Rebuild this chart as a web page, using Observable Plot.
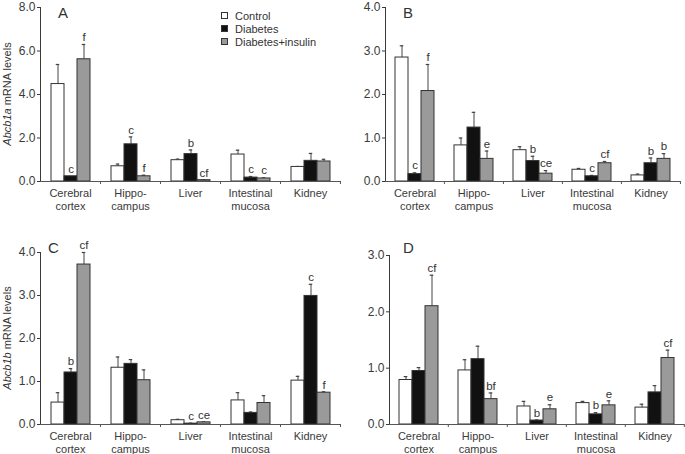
<!DOCTYPE html>
<html><head><meta charset="utf-8">
<script src="https://cdn.jsdelivr.net/npm/d3@7"></script>
<script src="https://cdn.jsdelivr.net/npm/@observablehq/plot@0.6"></script>
<style>
body{margin:0;background:#fff;font-family:"Liberation Sans",Arial,sans-serif;}
#wrap{position:relative;width:685px;height:454px;overflow:hidden;background:#fff;}
.panel{position:absolute;}
.panel svg{background:transparent !important;}
.letter{position:absolute;font-size:15px;color:#333;line-height:15px;}
.ylab{position:absolute;font-size:11px;color:#333;transform:translate(-50%,-50%) rotate(-90deg);white-space:nowrap;}
.legend{position:absolute;left:221px;top:10px;font-size:11px;color:#333;line-height:13px;}
.legend .sw{display:inline-block;width:5px;height:5px;border:1px solid #333;margin-right:7px;vertical-align:1px;}
</style></head><body><div id="wrap"></div>
<script>
// ---- categories ----
const tissues = ["Cerebral cortex","Hippocampus","Liver","Intestinal mucosa","Kidney"];
const tissueLabels = ["Cerebral\ncortex","Hippo-\ncampus","Liver","Intestinal\nmucosa","Kidney"];
const groups = ["Control","Diabetes","Diabetes+insulin"];
const groupFills = ["#ffffff","#111111","#9a9a9a"];

// ---- Panel A: Abcb1a (left column) ----
const meanA_control = [4.48, 0.70, 0.98, 1.24, 0.67];
const meanA_diab    = [0.24, 1.71, 1.26, 0.18, 0.95];
const meanA_ins     = [5.62, 0.24, 0.06, 0.14, 0.92];
const topA_control  = [5.38, 0.80, 1.03, 1.44, 0.69];
const topA_diab     = [0.24, 2.05, 1.45, 0.23, 1.29];
const topA_ins      = [6.30, 0.29, 0.07, 0.17, 1.02];
const sigA_control  = ["", "", "", "", ""];
const sigA_diab     = ["c", "c", "b", "c", ""];
const sigA_ins      = ["f", "f", "cf", "c", ""];
const ticksA = [0, 2, 4, 6, 8];

// ---- Panel B ----
const meanB_control = [2.85, 0.83, 0.72, 0.27, 0.14];
const meanB_diab    = [0.17, 1.24, 0.47, 0.12, 0.42];
const meanB_ins     = [2.08, 0.52, 0.18, 0.42, 0.52];
const topB_control  = [3.12, 1.00, 0.80, 0.30, 0.17];
const topB_diab     = [0.20, 1.59, 0.58, 0.14, 0.54];
const topB_ins      = [2.69, 0.70, 0.25, 0.46, 0.64];
const sigB_control  = ["", "", "", "", ""];
const sigB_diab     = ["c", "", "b", "c", "b"];
const sigB_ins      = ["f", "e", "ce", "cf", "b"];
const ticksB = [0, 1, 2, 3, 4];

// ---- Panel C: Abcb1b ----
const meanC_control = [0.51, 1.32, 0.10, 0.56, 1.02];
const meanC_diab    = [1.21, 1.41, 0.02, 0.27, 2.99];
const meanC_ins     = [3.72, 1.03, 0.05, 0.50, 0.74];
const topC_control  = [0.74, 1.57, 0.12, 0.74, 1.12];
const topC_diab     = [1.30, 1.51, 0.03, 0.29, 3.26];
const topC_ins      = [4.00, 1.27, 0.06, 0.67, 0.76];
const sigC_control  = ["", "", "", "", ""];
const sigC_diab     = ["b", "", "c", "", "c"];
const sigC_ins      = ["cf", "", "ce", "", "f"];
const ticksC = [0, 1, 2, 3, 4];

// ---- Panel D ----
const meanD_control = [0.79, 0.96, 0.32, 0.38, 0.30];
const meanD_diab    = [0.95, 1.16, 0.07, 0.18, 0.57];
const meanD_ins     = [2.10, 0.45, 0.27, 0.34, 1.18];
const topD_control  = [0.85, 1.15, 0.41, 0.41, 0.36];
const topD_diab     = [1.01, 1.39, 0.08, 0.21, 0.69];
const topD_ins      = [2.65, 0.56, 0.35, 0.42, 1.32];
const sigD_control  = ["", "", "", "", ""];
const sigD_diab     = ["", "", "b", "b", ""];
const sigD_ins      = ["cf", "bf", "e", "e", "cf"];
const ticksD = [0, 1, 2, 3];

const panels = [
  {id:"A", left:0, top:0, width:345, height:220, ml:40, mr:5, mt:7, mb:39, ticks:ticksA,
   means:[meanA_control,meanA_diab,meanA_ins], tops:[topA_control,topA_diab,topA_ins], sigs:[sigA_control,sigA_diab,sigA_ins],
   letter:[58,5], ylab:{x:7,y:94,gene:"Abcb1a"}},
  {id:"B", left:340, top:0, width:345, height:220, ml:43, mr:3, mt:7, mb:39, ticks:ticksB,
   means:[meanB_control,meanB_diab,meanB_ins], tops:[topB_control,topB_diab,topB_ins], sigs:[sigB_control,sigB_diab,sigB_ins],
   letter:[403,5]},
  {id:"C", left:0, top:220, width:345, height:234, ml:40, mr:5, mt:32, mb:30, ticks:ticksC,
   means:[meanC_control,meanC_diab,meanC_ins], tops:[topC_control,topC_diab,topC_ins], sigs:[sigC_control,sigC_diab,sigC_ins],
   letter:[48,240], ylab:{x:7,y:338,gene:"Abcb1b"}},
  {id:"D", left:340, top:220, width:345, height:234, ml:48, mr:0, mt:35, mb:30, ticks:ticksD,
   means:[meanD_control,meanD_diab,meanD_ins], tops:[topD_control,topD_diab,topD_ins], sigs:[sigD_control,sigD_diab,sigD_ins],
   letter:[403,240]}
];

const wrap = document.getElementById("wrap");
const ink = "#444";
const po = 0.72;

for (const p of panels) {
  const data = [];
  groups.forEach((g, gi) => tissues.forEach((t, ti) => data.push({
    tissue: t, group: g, value: p.means[gi][ti], top: p.tops[gi][ti], sig: p.sigs[gi][ti]
  })));
  const errs = data.filter(d => d.top > d.value);
  const sigs = data.filter(d => d.sig);
  const fw = (p.width - p.ml - p.mr) / tissues.length;
  const step = fw / (groups.length + 2 * po);
  const chart = Plot.plot({
    width: p.width, height: p.height,
    marginLeft: p.ml, marginRight: p.mr, marginTop: p.mt, marginBottom: p.mb,
    style: {fontFamily: '"Liberation Sans", Arial, sans-serif', fontSize: "12px", color: "#3a3a3a", background: "transparent"},
    fx: {domain: tissues, padding: 0},
    x: {domain: groups, axis: null, paddingInner: 0, paddingOuter: po},
    y: {domain: [0, d3.max(p.ticks)], ticks: p.ticks, tickFormat: d3.format(".1f"), tickSize: 3, tickPadding: 2, label: null, line: true},
    color: {domain: groups, range: groupFills},
    marks: [
      Plot.axisFx({anchor: "bottom", tickSize: 0, tickPadding: 6, label: null, lineHeight: 1.2, fontSize: 11,
        tickFormat: d => tissueLabels[tissues.indexOf(d)]}),
      Plot.ruleX(errs, {fx: "tissue", x: "group", y1: "value", y2: "top", stroke: ink, strokeWidth: 1}),
      Plot.tickY(errs, {fx: "tissue", x: "group", y: "top", stroke: ink, strokeWidth: 1.2, insetLeft: (step - 4) / 2, insetRight: (step - 4) / 2}),
      Plot.barY(data, {fx: "tissue", x: "group", y: "value", fill: "group", stroke: "#333", strokeWidth: 1}),
      Plot.text(sigs, {fx: "tissue", x: "group", y: d => Math.max(d.value, d.top), text: "sig", dy: -7, fill: "#333", fontSize: 11.5}),
      Plot.ruleY([0], {stroke: "#555"}),
      Plot.ruleX(tissues, {fx: d => d, x: () => groups[groups.length - 1], y1: () => 0, y2: () => 0,
        insetBottom: -3, dx: step / 2 + po * step, stroke: "#555"})
    ]
  });
  const div = document.createElement("div");
  div.className = "panel";
  div.style.left = p.left + "px"; div.style.top = p.top + "px";
  div.appendChild(chart);
  wrap.appendChild(div);

  const L = document.createElement("div");
  L.className = "letter";
  L.textContent = p.id;
  L.style.left = p.letter[0] + "px"; L.style.top = p.letter[1] + "px";
  wrap.appendChild(L);

  if (p.ylab) {
    const y = document.createElement("div");
    y.className = "ylab";
    y.innerHTML = "<i>" + p.ylab.gene + "</i> mRNA levels";
    y.style.left = p.ylab.x + "px"; y.style.top = p.ylab.y + "px";
    wrap.appendChild(y);
  }
}

const legend = document.createElement("div");
legend.className = "legend";
legend.innerHTML = groups.map((g, i) =>
  `<div><span class="sw" style="background:${groupFills[i]}"></span>${g}</div>`).join("");
wrap.appendChild(legend);
</script>
</body></html>
